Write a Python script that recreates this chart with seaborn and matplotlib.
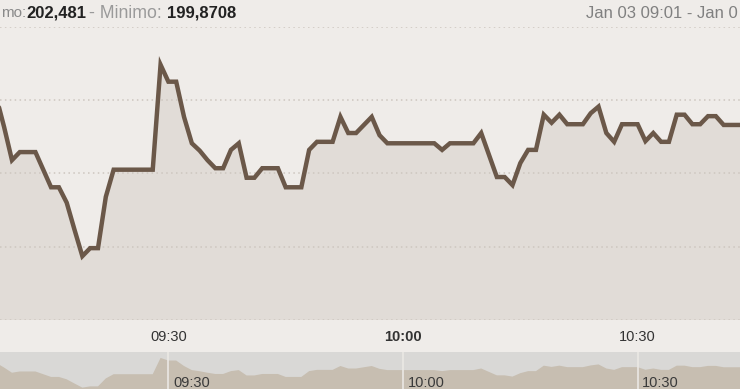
import numpy as np
import pandas as pd
import matplotlib
matplotlib.use("Agg")
import matplotlib.pyplot as plt
import seaborn as sns

# ---------------- data ----------------
start_time = "09:08"           # first sample (one sample per minute)
prices = [
    202.04, 201.63, 201.18, 201.29, 201.29, 201.29, 201.05, 200.81, 200.81, 200.60,
    200.23, 199.8708, 199.98, 199.98, 200.68, 201.05, 201.05, 201.05, 201.05, 201.05,
    201.05, 202.481, 202.25, 202.25, 201.77, 201.41, 201.31, 201.18, 201.07, 201.07,
    201.32, 201.41, 200.94, 200.94, 201.07, 201.07, 201.07, 200.81, 200.81, 200.81,
    201.32, 201.43, 201.43, 201.43, 201.77, 201.55, 201.55, 201.66, 201.77, 201.52,
    201.41, 201.41, 201.41, 201.41, 201.41, 201.41, 201.41, 201.32, 201.41, 201.41,
    201.41, 201.41, 201.55, 201.25, 200.95, 200.95, 200.84, 201.14, 201.32, 201.32,
    201.80, 201.69, 201.80, 201.67, 201.67, 201.67, 201.82, 201.91, 201.55, 201.43,
    201.67, 201.67, 201.67, 201.44, 201.55, 201.43, 201.43, 201.80, 201.80, 201.67,
    201.67, 201.78, 201.78, 201.66, 201.66, 201.66, 201.66, 201.66,
]
tick_labels = ["09:30", "10:00", "10:30"]
y_grid = [199, 200, 201, 202, 203]
max_label, max_value = "mo:", "202,481"
min_label, min_value = "Minimo:", "199,8708"
range_text = "Jan 03 09:01 - Jan 0"

def to_min(s):
    h, m = s.split(":")
    return int(h) * 60 + int(m) - 9 * 60   # minutes after 09:00

t0 = to_min(start_time)
minutes = t0 + np.arange(len(prices))
df = pd.DataFrame({"minute": minutes, "price": prices})
tick_pos = [to_min(s) for s in tick_labels]

# ---------------- style ----------------
sns.set_style("white")
plt.rcParams["font.family"] = ["Liberation Sans", "DejaVu Sans"]

W, H = 740, 389
BG = "#efece9"
FILL = "#e1dcd7"
LINE = "#6b5849"
GRID = "#cdc6bf"
NAV_BG = "#d9d8d6"
NAV_FILL = "#c7beb1"

def fy(y):
    return 1 - y / H

fig = plt.figure(figsize=(W / 100, H / 100), dpi=100)
fig.patch.set_facecolor(BG)

xlim = (8.47, 103.09)

# ---------------- main chart ----------------
ax = fig.add_axes([0, fy(320), 1, fy(26.7) - fy(320)])
ax.set_facecolor(BG)
ax.fill_between(df["minute"], df["price"], y_grid[0], color=FILL, lw=0, zorder=1)
sns.lineplot(data=df, x="minute", y="price", ax=ax, color=LINE, lw=3.2,
             zorder=3, solid_joinstyle="miter")
ax.set_xlim(*xlim)
ax.set_ylim(y_grid[0], y_grid[-1])
ax.set_yticks(y_grid)
ax.yaxis.grid(True, linestyle=(0, (1, 2.2)), color=GRID, lw=1.1, zorder=2)
ax.set_axisbelow(False)
ax.tick_params(axis="y", left=False, labelleft=False)
ax.set_xticks(tick_pos)
ax.set_xticklabels(tick_labels)
ax.tick_params(axis="x", length=0, pad=7, labelsize=10.5, labelcolor="#333333")
for lab in ax.get_xticklabels():
    if lab.get_text() == "10:00":
        lab.set_fontweight("bold")
ax.set_xlabel("")
ax.set_ylabel("")
for s in ax.spines.values():
    s.set_visible(False)

# ---------------- navigator ----------------
nav = fig.add_axes([0, 0, 1, fy(352)])
nav.set_facecolor(NAV_BG)
nav.fill_between(df["minute"], df["price"], 199.0, color=NAV_FILL, lw=0, zorder=1)
nav.set_xlim(*xlim)
nav.set_ylim(199.75, 203.0)
for tp, tl in zip(tick_pos, tick_labels):
    nav.axvline(tp, color="#ebe8e4", lw=1.2, zorder=2)
    nav.text(tp + 0.6, 0.17, tl, transform=nav.get_xaxis_transform(),
             ha="left", va="center", fontsize=10.5, color="#3a3a3a", zorder=3)
nav.set_xticks([])
nav.set_yticks([])
for s in nav.spines.values():
    s.set_visible(False)

# ---------------- header ----------------
hy = fy(13)
fig.text(1 / W, hy, max_label, ha="left", va="center", fontsize=11, color="#8a8a8a")
fig.text(26 / W, hy, max_value, ha="left", va="center", fontsize=12,
         color="#222222", fontweight="bold")
fig.text(89 / W, hy, "- " + min_label, ha="left", va="center", fontsize=12.8,
         color="#9a9a9a")
fig.text(167 / W, hy, min_value, ha="left", va="center", fontsize=12,
         color="#222222", fontweight="bold")
fig.text(738 / W, hy, range_text, ha="right", va="center", fontsize=12,
         color="#808080")

fig.savefig("out.png", dpi=100, facecolor=BG)
